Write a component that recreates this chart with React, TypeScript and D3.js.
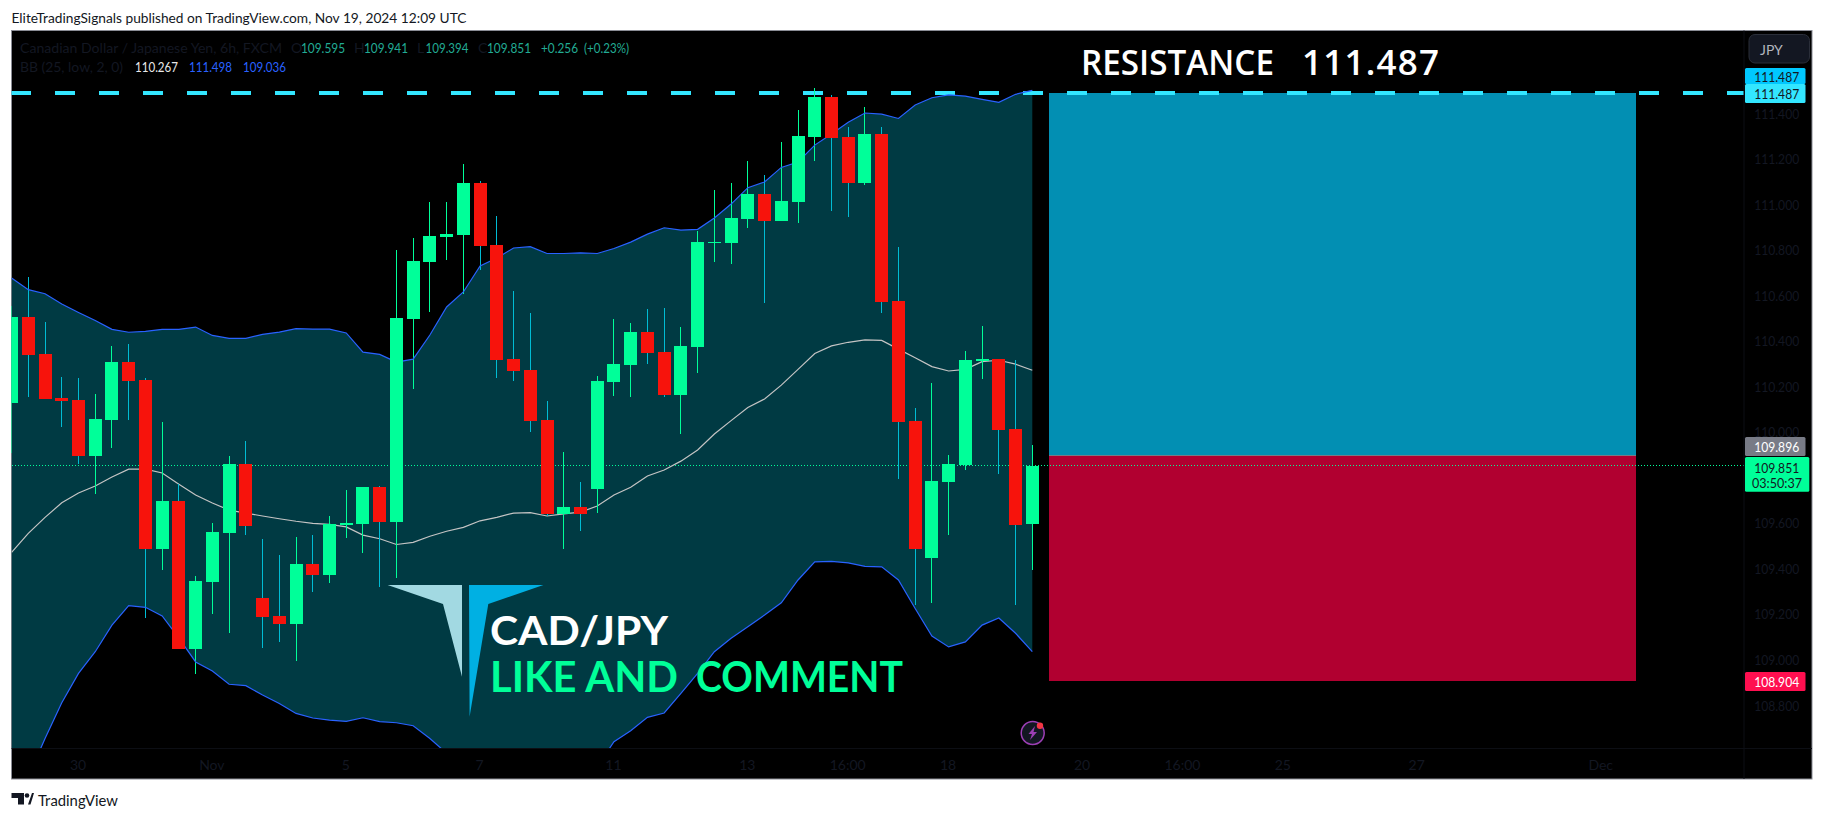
import React from "react";
import * as d3 from "d3";

const FIRST_BAR = -1;
const opens = [110.128,110.504,110.341,110.148,110.139,109.893,110.052,110.306,110.227,109.485,109.696,109.046,109.340,109.555,109.858,109.270,109.191,109.156,109.419,109.371,109.590,109.595,109.757,109.604,110.495,110.745,110.855,110.864,111.092,110.820,110.319,110.271,110.052,109.639,109.669,109.749,110.218,110.293,110.438,110.350,110.161,110.372,110.829,110.829,110.934,111.044,110.925,111.009,111.294,111.470,111.294,111.092,111.308,110.574,110.047,109.445,109.779,109.854,110.311,110.319,110.012,109.595];
const highs = [110.554,110.680,110.482,110.240,110.236,110.166,110.377,110.385,110.236,110.041,109.770,109.366,109.599,109.893,109.959,109.529,109.459,109.538,109.546,109.630,109.744,109.757,109.762,110.798,110.851,111.009,111.009,111.176,111.101,110.947,110.618,110.521,110.135,109.911,109.779,110.245,110.495,110.478,110.539,110.543,110.460,110.882,111.062,111.092,111.189,111.128,111.272,111.413,111.510,111.479,111.338,111.426,111.338,110.811,110.104,110.214,109.898,110.355,110.464,110.319,110.315,109.941];
const lows = [109.905,110.154,110.144,110.022,109.858,109.727,109.930,110.052,109.183,109.393,109.046,108.936,109.200,109.116,109.546,109.050,109.077,108.993,109.296,109.336,109.533,109.467,109.318,109.358,110.188,110.526,110.754,110.605,110.710,110.236,110.223,109.999,109.630,109.485,109.564,109.643,110.157,110.153,110.297,110.153,109.990,110.258,110.745,110.737,110.895,110.565,110.925,110.917,111.189,110.969,110.943,111.084,110.521,109.792,109.239,109.248,109.546,109.832,110.232,109.814,109.239,109.394];
const closes = [110.504,110.337,110.144,110.135,109.893,110.056,110.306,110.223,109.485,109.696,109.046,109.344,109.560,109.858,109.586,109.186,109.156,109.419,109.371,109.595,109.599,109.757,109.604,110.499,110.750,110.860,110.868,111.092,110.816,110.315,110.267,110.047,109.639,109.669,109.639,110.223,110.297,110.438,110.346,110.161,110.377,110.833,110.833,110.939,111.044,110.925,111.013,111.299,111.470,111.290,111.092,111.308,110.570,110.043,109.485,109.784,109.858,110.315,110.319,110.008,109.590,109.851];
const bbUpper = [110.675,110.624,110.606,110.561,110.524,110.489,110.450,110.437,110.441,110.450,110.450,110.460,110.423,110.410,110.410,110.428,110.438,110.453,110.451,110.451,110.434,110.350,110.340,110.306,110.319,110.425,110.548,110.614,110.728,110.763,110.807,110.813,110.783,110.783,110.786,110.783,110.805,110.833,110.868,110.896,110.886,110.889,110.939,111.000,111.072,111.097,111.161,111.185,111.259,111.308,111.359,111.400,111.395,111.376,111.435,111.467,111.480,111.474,111.460,111.447,111.482,111.499];
const bbMiddle = [109.470,109.554,109.624,109.688,109.731,109.762,109.801,109.836,109.836,109.819,109.770,109.722,109.687,109.656,109.643,109.630,109.618,109.607,109.598,109.593,109.582,109.546,109.530,109.505,109.514,109.541,109.563,109.580,109.609,109.624,109.643,109.645,109.630,109.639,109.647,109.674,109.722,109.756,109.806,109.832,109.871,109.920,109.990,110.049,110.107,110.144,110.205,110.274,110.344,110.377,110.393,110.404,110.401,110.363,110.325,110.286,110.267,110.274,110.308,110.314,110.297,110.270];
const bbLower = [108.353,108.485,108.653,108.810,108.939,109.034,109.151,109.236,109.229,109.191,109.094,108.989,108.949,108.891,108.885,108.844,108.807,108.763,108.743,108.734,108.728,108.744,108.727,108.722,108.709,108.653,108.588,108.514,108.412,108.324,108.266,108.236,108.236,108.309,108.397,108.529,108.639,108.687,108.746,108.765,108.851,108.939,109.034,109.093,109.144,109.195,109.249,109.349,109.429,109.431,109.424,109.409,109.407,109.349,109.224,109.103,109.055,109.077,109.151,109.182,109.115,109.034];

const priceTicks = [111.4,111.2,111.0,110.8,110.6,110.4,110.2,110.0,109.6,109.4,109.2,109.0,108.8];
const timeTickLabels = ["30","Nov","5","7","11","13","16:00","18","20","16:00","25","27","Dec"];
const timeTickBars = [3,11,19,27,35,43,49,55,63,69,75,83,94];

const resistance = 111.487;
const entry = 109.896;
const stop = 108.904;
const lastClose = 109.851;
const boxStartBar = 61.0;
const boxEndBar = 96.1;

const W = 1824, H = 819;
const L = 11.5, T = 30.5, R = 1812, B = 779, PANE_B = 748, AXIS_X = 1744;
const GREEN = "#00ff99", RED = "#f7130c", CYAN_WICK = "#00bcd4", DIM = "#131722";
const FONT = "Lato, 'Noto Sans', sans-serif";

const x = d3.scaleLinear().domain([0, 60]).range([28.3, 1032.3]);
const y = d3.scaleLinear().domain([111.4, 108.8]).range([113, 705]);

const bars = opens.map((o, k) => ({ i: k + FIRST_BAR, o, h: highs[k], l: lows[k], c: closes[k], up: closes[k] >= o }));
const series = (vals: number[]) => vals.map((v, k) => [x(k + FIRST_BAR), y(v)] as [number, number]);
const lineGen = d3.line();
const areaGen = d3.area<number>()
  .x((_, k) => x(k + FIRST_BAR))
  .y0((_, k) => y(bbLower[k]))
  .y1((_, k) => y(bbUpper[k]));

const T1 = ({ x: tx, y: ty, fill = DIM, size = 14, len, anchor, children, weight }: any) => (
  <text x={tx} y={ty} fill={fill} fontSize={size} fontFamily={FONT} dominantBaseline="central" textAnchor={anchor}
    textLength={len} lengthAdjust={len ? "spacingAndGlyphs" : undefined} fontWeight={weight}>{children}</text>
);

const Tag = ({ top, bottom, w = 60.5, bg, fg, label }: any) => (
  <g>
    <rect x={AXIS_X + 1} y={top} width={w} height={bottom - top} fill={bg} rx={1.5} />
    <T1 x={1776.7} y={(top + bottom) / 2} anchor="middle" fill={fg} len={45}>{label}</T1>
  </g>
);

export default function App() {
  return (
    <svg width={W} height={H} viewBox={`0 0 ${W} ${H}`} style={{ position: "absolute", left: 0, top: 0, display: "block", background: "#fff" }}>
      <defs>
        <clipPath id="pane"><rect x={L} y={T} width={AXIS_X - L} height={PANE_B - T} /></clipPath>
      </defs>
      <rect x={0} y={0} width={W} height={H} fill="#fff" />
      <T1 x={11.5} y={17} fill="#131722" len={455}>EliteTradingSignals published on TradingView.com, Nov 19, 2024 12:09 UTC</T1>

      <rect x={L} y={T} width={R - L} height={B - T} fill="#000" stroke="#8a8c95" strokeWidth={1} />

      <g clipPath="url(#pane)">
        <rect x={x(boxStartBar)} y={y(resistance)} width={x(boxEndBar) - x(boxStartBar)} height={y(entry) - y(resistance)} fill="#028fb3" shapeRendering="crispEdges" />
        <rect x={x(boxStartBar)} y={y(entry)} width={x(boxEndBar) - x(boxStartBar)} height={y(stop) - y(entry)} fill="#b10030" shapeRendering="crispEdges" />
        <line x1={x(boxStartBar)} x2={x(boxEndBar)} y1={y(entry)} y2={y(entry)} stroke="#787b86" strokeWidth={1} shapeRendering="crispEdges" />

        <path d={areaGen(opens) ?? ""} fill="#003a43" />

        <line x1={L} x2={AXIS_X} y1={y(lastClose)} y2={y(lastClose)} stroke={GREEN} strokeWidth={1} strokeDasharray="1 2" shapeRendering="crispEdges" />
        <line x1={11} x2={AXIS_X} y1={y(resistance)} y2={y(resistance)} stroke="#33e6ff" strokeWidth={4} strokeDasharray="20 24" shapeRendering="crispEdges" />

        <path d={lineGen(series(bbMiddle)) ?? ""} fill="none" stroke="#c4c4c4" strokeWidth={1.2} />

        {bars.map((b) => (
          <line key={`w${b.i}`} x1={x(b.i)} x2={x(b.i)} y1={y(b.h)} y2={y(b.l)} stroke={b.up ? GREEN : CYAN_WICK} strokeWidth={1} shapeRendering="crispEdges" />
        ))}
        <path d={lineGen(series(bbUpper)) ?? ""} fill="none" stroke="#2962ff" strokeWidth={1.2} />
        <path d={lineGen(series(bbLower)) ?? ""} fill="none" stroke="#2962ff" strokeWidth={1.2} />
        {bars.map((b) => (
          <rect key={`b${b.i}`} x={x(b.i) - 6.5} width={13} y={y(Math.max(b.o, b.c))}
            height={Math.max(1, Math.abs(y(b.o) - y(b.c)))} fill={b.up ? GREEN : RED} shapeRendering="crispEdges" />
        ))}
      </g>

      {/* logo */}
      <polygon points="387.6,585 462,585 462,676.7 443,604" fill="#a2d9e2" />
      <polygon points="469,585 543.4,585 488.3,604 469.6,716.7" fill="#00b0e3" />

      <text x={490} y={645} fill="#fff" fontFamily="Lato, sans-serif" fontWeight={700} fontSize={41} textLength={178} lengthAdjust="spacingAndGlyphs">CAD/JPY</text>
      <text x={490} y={692} fill="#00ff99" fontFamily="Lato, sans-serif" fontWeight={700} fontSize={42} textLength={188} lengthAdjust="spacingAndGlyphs">LIKE AND</text>
      <text x={696} y={692} fill="#00ff99" fontFamily="Lato, sans-serif" fontWeight={700} fontSize={42} textLength={207} lengthAdjust="spacingAndGlyphs">COMMENT</text>
      <text x={1081} y={75} fill="#fff" fontFamily="'Open Sans', sans-serif" fontWeight={600} fontSize={35} textLength={193} lengthAdjust="spacingAndGlyphs">RESISTANCE</text>
      <text x={1302} y={75} fill="#fff" fontFamily="'Open Sans', sans-serif" fontWeight={600} fontSize={35} textLength={137} lengthAdjust="spacing">111.487</text>

      {/* legend */}
      <T1 x={20} y={47} len={262}>Canadian Dollar / Japanese Yen, 6h, FXCM</T1>
      <T1 x={291} y={47}>O</T1><T1 x={301} y={47} fill="#22ab94" len={44}>109.595</T1>
      <T1 x={354} y={47}>H</T1><T1 x={364} y={47} fill="#22ab94" len={44}>109.941</T1>
      <T1 x={417} y={47}>L</T1><T1 x={425.5} y={47} fill="#22ab94" len={43}>109.394</T1>
      <T1 x={478} y={47}>C</T1><T1 x={487} y={47} fill="#22ab94" len={44}>109.851</T1>
      <T1 x={541} y={47} fill="#22ab94" len={37}>+0.256</T1>
      <T1 x={584} y={47} fill="#22ab94" len={45}>(+0.23%)</T1>
      <T1 x={20} y={66} len={103}>BB (25, low, 2, 0)</T1>
      <T1 x={135} y={66} fill="#e8e8e8" len={43}>110.267</T1>
      <T1 x={189} y={66} fill="#2962ff" len={43}>111.498</T1>
      <T1 x={243} y={66} fill="#2962ff" len={43}>109.036</T1>

      {/* bolt badge */}
      <circle cx={1032.7} cy={733} r={11.5} fill="#131722" stroke="#9c3fb5" strokeWidth={1.5} />
      <path d="M1035 726 L1028.5 734 L1032 734 L1030 740 L1037 732 L1033.5 732 Z" fill="#9c3fb5" />
      <circle cx={1040} cy={725.7} r={3.2} fill="#f23645" />

      {/* axes */}
      <line x1={AXIS_X} x2={AXIS_X} y1={T} y2={B} stroke="#0c0e14" />
      <line x1={L} x2={R} y1={PANE_B + 0.5} y2={PANE_B + 0.5} stroke="#0c0e14" />
      {priceTicks.map((p) => (
        <T1 key={p} x={1776.7} y={y(p)} anchor="middle" len={45}>{p.toFixed(3)}</T1>
      ))}
      {timeTickLabels.map((t, k) => (
        <T1 key={k} x={x(timeTickBars[k]) - 0.5} y={764} anchor="middle">{t}</T1>
      ))}

      <Tag top={68} bottom={84} bg="#00c8ff" fg="#131722" label={resistance.toFixed(3)} />
      <Tag top={84} bottom={103} bg="#33e6ff" fg="#131722" label={resistance.toFixed(3)} />
      <Tag top={437} bottom={456} bg="#787b86" fg="#fff" label={entry.toFixed(3)} />
      <g>
        <rect x={AXIS_X + 1} y={457} width={64.3} height={34.7} fill={GREEN} rx={1.5} />
        <T1 x={1776.7} y={467} anchor="middle" len={45}>{lastClose.toFixed(3)}</T1>
        <T1 x={1777} y={482.5} anchor="middle" len={50}>03:50:37</T1>
      </g>
      <Tag top={672} bottom={691} bg="#ff0f50" fg="#fff" label={stop.toFixed(3)} />

      {/* currency button */}
      <rect x={1749} y={34.5} width={60.5} height={28.5} rx={6} fill="#131722" stroke="#2a2e39" />
      <T1 x={1760} y={49} fill="#b2b5be">JPY</T1>

      {/* footer */}
      <path d="M11.5 793 H24 V804.5 H18 V798 H11.5 Z" fill="#131722" />
      <circle cx={27} cy={795.5} r={2.3} fill="#131722" />
      <path d="M28 804.5 L32 793 H34 L30.5 804.5 Z" fill="#131722" />
      <T1 x={38} y={800} size={15} len={80}>TradingView</T1>
    </svg>
  );
}
